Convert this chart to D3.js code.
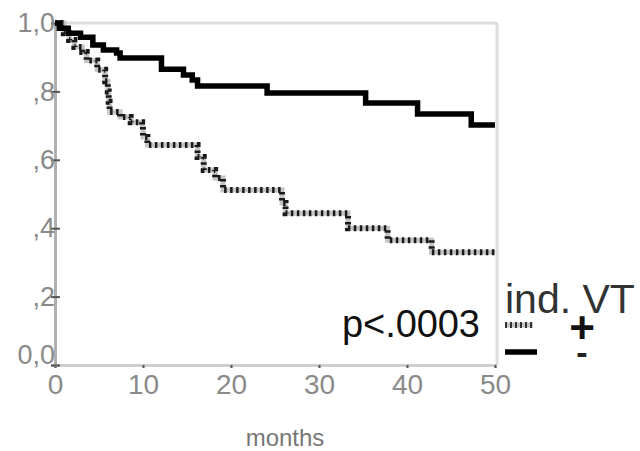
<!DOCTYPE html>
<html><head><meta charset="utf-8">
<script src="https://cdn.jsdelivr.net/npm/d3@7"></script>
<style>
html,body{margin:0;padding:0;background:#fff;}
svg{display:block;font-family:"Liberation Sans",Arial,sans-serif;}
</style></head>
<body><svg id="c" width="640" height="451"></svg>
<script>
// Data
const xTicks = [0, 10, 20, 30, 40, 50];
const yTicks = [0, 0.2, 0.4, 0.6, 0.8, 1.0];
const yTickLabels = ["0,0", ",2", ",4", ",6", ",8", "1,0"];
// ind. VT "-" (solid)
const solidT = [0, 0.5, 1.5, 2.9, 4.3, 5.5, 7.0, 7.4, 12.1, 14.6, 15.6, 16.2, 24.1, 35.3, 41.2, 47.3, 50];
const solidS = [1, 0.985, 0.97, 0.958, 0.936, 0.921, 0.912, 0.898, 0.865, 0.848, 0.833, 0.816, 0.795, 0.766, 0.734, 0.702, 0.702];
// ind. VT "+" (dashed)
const dashT = [0, 1.0, 1.6, 2.2, 3.1, 3.6, 4.8, 5.7, 6.0, 6.1, 6.2, 7.4, 8.6, 9.9, 10.0, 10.5, 16.2, 16.9, 18.2, 19.1, 25.8, 26.2, 33.3, 37.8, 42.8, 50];
const dashS = [1, 0.97, 0.95, 0.93, 0.915, 0.89, 0.863, 0.83, 0.80, 0.77, 0.74, 0.725, 0.71, 0.696, 0.667, 0.643, 0.608, 0.57, 0.547, 0.512, 0.474, 0.444, 0.40, 0.365, 0.33, 0.33];
const pText = "p<.0003";
const legendTitle = "ind. VT";
const legendSigns = ["+", "-"];
const xLabel = "months";

const svg = d3.select("#c");
const x = d3.scaleLinear().domain([0, 50]).range([55, 495]);
const y = d3.scaleLinear().domain([0, 1]).range([365, 23]);

// frame (top/right)
svg.append("line").attr("x1", x(0)).attr("x2", x(50)+2).attr("y1", y(1)).attr("y2", y(1))
  .attr("stroke", "#dcdcdc").attr("stroke-width", 3);
svg.append("line").attr("x1", x(50)+2).attr("x2", x(50)+2).attr("y1", y(1)).attr("y2", y(0))
  .attr("stroke", "#dcdcdc").attr("stroke-width", 3);

// x axis
const xa = svg.append("g").attr("transform", `translate(0,${y(0)})`)
  .call(d3.axisBottom(x).tickValues(xTicks).tickSize(3).tickPadding(6).tickFormat(d3.format("d")));
xa.select(".domain").attr("stroke", "#cfcfcf").attr("stroke-width", 3);
xa.selectAll(".tick line").attr("stroke", "#555").attr("stroke-width", 2);
xa.selectAll(".tick text").attr("fill", "#8a8a8a").attr("font-size", 28).attr("dy", "0.71em");

// y axis
const ya = svg.append("g").attr("transform", `translate(${x(0)},0)`)
  .call(d3.axisLeft(y).tickValues(yTicks).tickSize(4).tickPadding(0)
    .tickFormat((d, i) => yTickLabels[i]));
ya.select(".domain").attr("stroke", "#b0b0b0").attr("stroke-width", 3);
ya.selectAll(".tick line").attr("stroke", "#555").attr("stroke-width", 2).attr("x2", 5).attr("x1", -4);
ya.selectAll(".tick text").attr("fill", "#8a8a8a").attr("font-size", 27).attr("x", 0)
  .attr("dy", (d) => d === 0 ? "-0.05em" : "0.32em");

// curves
const solidData = solidT.map((t, i) => [t, solidS[i]]);
const dashData = dashT.map((t, i) => [t, dashS[i]]);
const line = d3.line().x(d => x(d[0])).y(d => y(d[1])).curve(d3.curveStepAfter);
svg.append("path").datum(dashData).attr("d", line).attr("fill", "none")
  .attr("stroke", "#c4c4c4").attr("stroke-width", 5);
svg.append("path").datum(dashData).attr("d", line).attr("fill", "none")
  .attr("stroke", "#1a1a1a").attr("stroke-width", 6).attr("stroke-dasharray", "2.5,3.5");
svg.append("path").datum(solidData).attr("d", line).attr("fill", "none")
  .attr("stroke", "#000").attr("stroke-width", 5.5);

// p value
svg.append("text").attr("x", 342).attr("y", 337).attr("font-size", 38).attr("fill", "#111")
  .attr("textLength", 138).text(pText);

// legend
svg.append("text").attr("x", 505).attr("y", 313).attr("font-size", 41).attr("fill", "#333").text(legendTitle);
svg.append("line").attr("x1", 505).attr("x2", 533).attr("y1", 325).attr("y2", 325)
  .attr("stroke", "#c4c4c4").attr("stroke-width", 5);
svg.append("line").attr("x1", 505).attr("x2", 533).attr("y1", 325).attr("y2", 325)
  .attr("stroke", "#333").attr("stroke-width", 6).attr("stroke-dasharray", "2,3");
svg.append("line").attr("x1", 505).attr("x2", 537).attr("y1", 352).attr("y2", 352)
  .attr("stroke", "#000").attr("stroke-width", 5.5);
svg.append("text").attr("x", 582).attr("y", 343).attr("text-anchor", "middle").attr("font-size", 44)
  .attr("font-weight", "bold").attr("fill", "#111").text(legendSigns[0]);
svg.append("text").attr("x", 582).attr("y", 364).attr("text-anchor", "middle").attr("font-size", 34)
  .attr("font-weight", "bold").attr("fill", "#222").text(legendSigns[1]);

// x label
svg.append("text").attr("x", 285).attr("y", 446).attr("text-anchor", "middle").attr("font-size", 24)
  .attr("fill", "#777").text(xLabel);
</script></body></html>
